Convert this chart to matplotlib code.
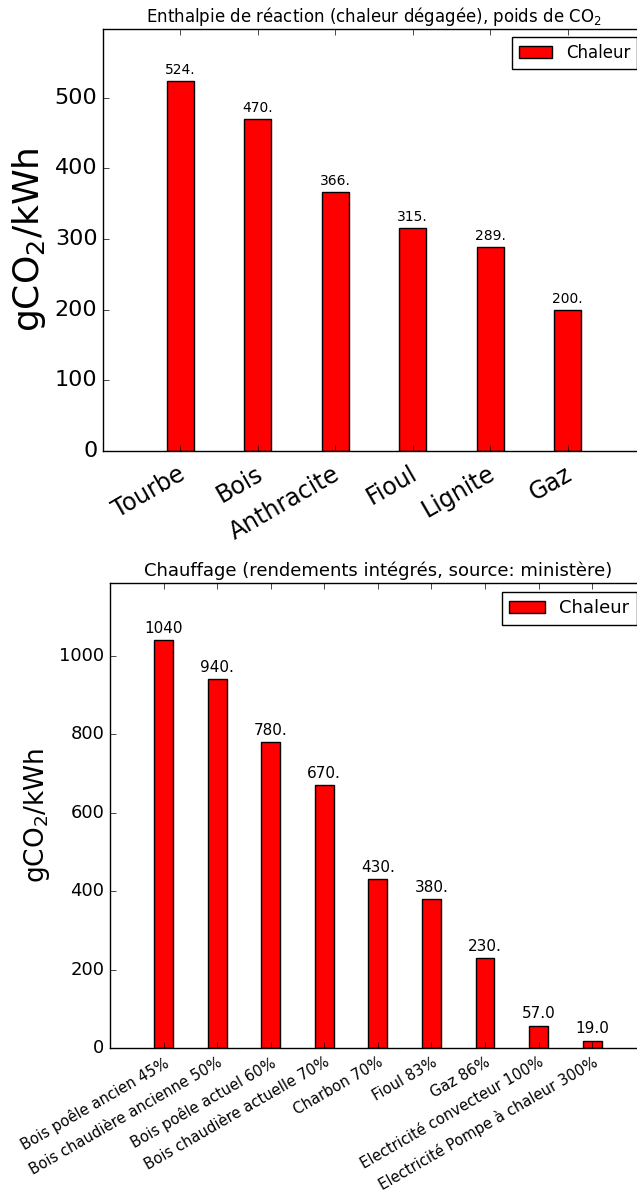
import numpy as np
import matplotlib
matplotlib.use("Agg")
from matplotlib import pyplot as plt
from matplotlib.transforms import ScaledTranslation

# donnees
combustibles = ["Tourbe", "Bois", "Anthracite", "Fioul", "Lignite", "Gaz"]
enthalpie = [524, 470, 366, 315, 289, 200]

chauffages = ["Bois poêle ancien 45%", "Bois chaudière ancienne 50%",
              "Bois poêle actuel 60%", "Bois chaudière actuelle 70%",
              "Charbon 70%", "Fioul 83%", "Gaz 86%",
              "Electricité convecteur 100%", "Electricité Pompe à chaleur 300%"]
chauffage_co2 = [1040, 940, 780, 670, 430, 380, 230, 57, 19]

plt.style.use("classic")
plt.rcParams["mathtext.fontset"] = "dejavusans"
plt.rcParams["font.family"] = ["DejaVu Sans"]

fig = plt.figure(figsize=(6.37, 11.94), dpi=100, facecolor="white")

largeur = 0.35


def barres(ax, noms, valeurs, taille_annot):
    x = np.arange(len(noms))
    ax.bar(x, valeurs, largeur, color="red", edgecolor="black",
           align="center", label="Chaleur")
    for xi, v in zip(x, valeurs):
        ax.annotate(str(float(v))[:4], (xi, v), xytext=(0, 3),
                    textcoords="offset points", ha="center", va="bottom",
                    fontsize=taille_annot)
    ax.set_xticks(x)
    ax.set_xlim(-1, len(noms))
    return x


def decale_labels(ax, dx, dy):
    # petit decalage des etiquettes inclinees (en pixels)
    offset = ScaledTranslation(dx / 100, dy / 100, fig.dpi_scale_trans)
    for lab in ax.get_xticklabels():
        lab.set_transform(lab.get_transform() + offset)


ax1 = fig.add_axes([0.1617, 0.6223, 0.851, 0.3534])
barres(ax1, combustibles, enthalpie, 10)
ax1.set_ylim(0, max(enthalpie) * 1.14)
ax1.set_yticks(np.arange(0, 600, 100))
ax1.set_xticklabels(combustibles, rotation=30, ha="right", fontsize=17)
ax1.tick_params(axis="y", labelsize=16)
ax1.set_ylabel("gCO$_2$/kWh", fontsize=26)
ax1.set_title("Enthalpie de réaction (chaleur dégagée), poids de CO$_2$", fontsize=12)
ax1.legend(loc="upper right", fontsize=12)
decale_labels(ax1, 9, -5)

ax2 = fig.add_axes([0.1727, 0.1223, 0.841, 0.3894])
barres(ax2, chauffages, chauffage_co2, 11)
ax2.set_ylim(0, max(chauffage_co2) * 1.14)
ax2.set_yticks(np.arange(0, 1200, 200))
ax2.set_xticklabels(chauffages, rotation=30, ha="right", fontsize=10.6)
ax2.tick_params(axis="y", labelsize=13)
ax2.set_ylabel("gCO$_2$/kWh", fontsize=19)
ax2.set_title("Chauffage (rendements intégrés, source: ministère)", fontsize=13)
ax2.legend(loc="upper right", fontsize=13)
decale_labels(ax2, 8, -1)

fig.savefig("out.png", dpi=100, facecolor="white")
